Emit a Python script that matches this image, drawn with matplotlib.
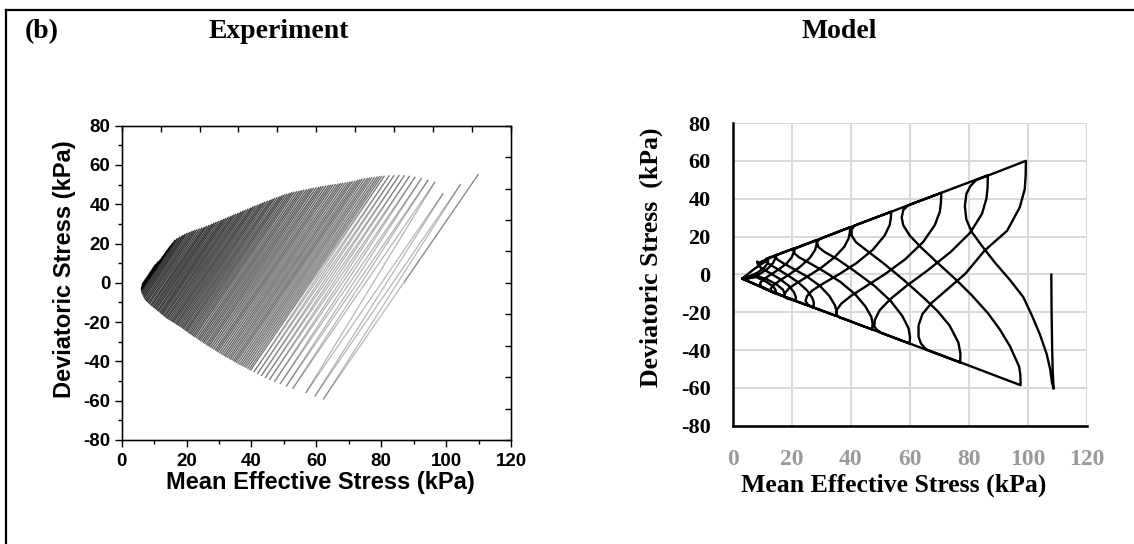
import matplotlib
matplotlib.use('Agg')
import matplotlib.pyplot as plt
from matplotlib.lines import Line2D
from matplotlib.collections import LineCollection
from matplotlib.ticker import MultipleLocator

plt.rcParams['axes.unicode_minus'] = False

# ---------------- data: experiment (cycle peaks) ----------------
exp_start = (87.0, 0.0)
exp_comp_p = [110.0, 104.5, 99.1, 96.6, 94.5, 92.5, 90.5, 88.8, 87.2, 85.6, 84.0, 82.5,
              81.0, 80.2, 79.5, 78.8, 78.0, 77.2, 76.5, 75.8, 75.0, 74.2, 73.5, 72.8, 72.0, 71.2,
              70.5, 69.8, 69.0, 68.2, 67.5, 66.8, 66.0, 65.2, 64.5, 63.8, 63.0, 62.2, 61.5, 60.8,
              60.0, 59.2, 58.5, 57.8, 57.0, 56.2, 55.5, 54.8, 54.0, 53.2, 52.5, 51.8, 51.0, 50.2,
              49.5, 48.8, 48.0, 47.2, 46.5, 45.8, 45.0, 44.2, 43.5, 42.8, 42.0, 41.2, 40.5, 39.8,
              39.0, 38.2, 37.5, 36.8, 36.0, 35.2, 34.5, 33.8, 33.0, 32.2, 31.5, 30.8, 30.0, 29.2,
              28.5, 27.8, 27.0, 26.2, 25.5, 24.8, 24.0, 23.2, 22.5, 21.8, 21.0, 20.2, 19.5, 18.8,
              18.0, 17.2, 16.5, 15.8, 15.0, 14.2, 13.5, 12.8, 12.0, 11.2, 10.5]
exp_comp_q = [55.4, 50.3, 45.6, 51.5, 52.5, 53.4, 54.0, 54.5, 54.8, 54.9, 54.8, 54.7,
              54.5, 54.4, 54.3, 54.1, 53.9, 53.8, 53.6, 53.4, 53.2, 53.0, 52.7, 52.4, 52.0, 51.8,
              51.5, 51.3, 51.1, 50.9, 50.7, 50.5, 50.3, 50.1, 49.9, 49.7, 49.5, 49.3, 49.1, 48.8,
              48.6, 48.4, 48.1, 47.9, 47.6, 47.4, 47.1, 46.9, 46.6, 46.4, 46.1, 45.8, 45.4, 45.0,
              44.5, 44.0, 43.6, 43.2, 42.7, 42.2, 41.8, 41.3, 40.8, 40.3, 39.8, 39.3, 38.8, 38.2,
              37.7, 37.2, 36.7, 36.2, 35.6, 35.1, 34.6, 34.1, 33.6, 33.0, 32.5, 32.0, 31.5, 31.0,
              30.5, 30.0, 29.4, 28.9, 28.3, 28.0, 27.6, 27.2, 26.8, 26.4, 25.9, 25.4, 24.8, 24.2,
              23.5, 22.7, 21.9, 20.3, 18.7, 16.9, 15.0, 13.5, 12.0, 10.8, 9.5]
exp_ext_p = [62.1, 59.5, 56.7, 52.7, 50.7, 48.8, 47.0, 45.5, 44.2, 43.0, 41.8, 40.7,
             39.7, 39.2, 38.7, 38.2, 37.7, 37.2, 36.7, 36.2, 35.7, 35.2, 34.8, 34.4, 33.9, 33.4,
             33.0, 32.5, 32.0, 31.6, 31.1, 30.6, 30.1, 29.6, 29.2, 28.8, 28.3, 27.8, 27.3, 26.8,
             26.4, 26.0, 25.5, 25.1, 24.7, 24.2, 23.8, 23.4, 22.9, 22.4, 22.0, 21.6, 21.2, 20.8,
             20.4, 20.0, 19.7, 19.3, 18.9, 18.6, 18.2, 17.8, 17.4, 17.0, 16.7, 16.3, 15.9, 15.6,
             15.2, 14.8, 14.4, 14.0, 13.7, 13.3, 13.0, 12.6, 12.3, 12.0, 11.7, 11.3, 11.0, 10.6,
             10.3, 9.9, 9.6, 9.2, 8.9, 8.5, 8.2, 7.8, 7.5, 7.2, 6.9, 6.7, 6.5, 6.3,
             6.1, 6.0, 6.0, 6.0, 6.0, 6.1, 6.2, 6.2, 6.2, 6.2, 6.3]
exp_ext_q = [-59.4, -57.8, -56.1, -53.9, -52.7, -51.5, -50.5, -49.4, -48.4, -47.4, -46.4, -45.5,
             -44.6, -44.2, -43.7, -43.2, -42.8, -42.4, -42.0, -41.6, -41.1, -40.6, -40.2, -39.8, -39.4, -39.0,
             -38.5, -38.1, -37.7, -37.2, -36.8, -36.3, -35.8, -35.3, -34.8, -34.4, -33.9, -33.4, -32.9, -32.4,
             -32.0, -31.5, -31.0, -30.5, -30.0, -29.6, -29.1, -28.6, -28.1, -27.6, -27.2, -26.7, -26.2, -25.8,
             -25.3, -24.8, -24.4, -24.0, -23.5, -23.0, -22.6, -22.2, -21.8, -21.4, -21.0, -20.6, -20.2, -19.8,
             -19.5, -19.1, -18.7, -18.3, -17.9, -17.4, -17.0, -16.5, -16.0, -15.6, -15.1, -14.6, -14.2, -13.7,
             -13.2, -12.8, -12.3, -11.8, -11.4, -10.8, -10.3, -9.8, -9.2, -8.6, -7.9, -7.2, -6.4, -5.7,
             -5.0, -4.2, -3.5, -3.2, -2.9, -2.7, -2.5, -2.2, -1.9, -1.2, -0.6]

# ---------------- data: model stress path, half-cycle by half-cycle ----------------
model_E0 = [(108.0, 0.0), (108.1, -20.0), (108.3, -40.0), (108.5, -52.0), (108.7, -58.0), (108.8, -60.5)]
model_R0 = [(108.2, -57.0), (107.6, -50.0), (106.4, -42.0), (104.2, -32.0), (101.5, -22.0), (98.5, -12.0),
            (94.0, -3.0), (89.0, 6.0), (84.5, 15.0), (81.0, 22.5), (79.2, 29.0), (78.7, 36.0), (79.2, 42.5),
            (80.5, 46.5), (82.5, 49.8), (99.4, 60.0)]
model_U1 = [(99.3, 52.0), (99.0, 45.0), (97.3, 35.4), (93.0, 23.0), (85.4, 12.6), (78.9, 0.4), (72.4, -8.4),
            (67.5, -15.0), (64.3, -21.0), (63.0, -27.0), (63.0, -33.0), (63.8, -36.5), (65.5, -39.6), (97.6, -58.6)]
model_R1 = [(97.5, -53.0), (97.1, -48.8), (94.0, -38.0), (90.5, -29.0), (86.5, -20.5), (81.0, -11.0),
            (75.7, -2.8), (69.5, 6.0), (64.0, 14.0), (60.0, 20.5), (57.8, 26.0), (57.3, 30.0), (57.8, 34.0),
            (59.5, 36.5), (86.5, 52.4)]
model_U2 = [(86.4, 46.0), (86.0, 40.0), (84.5, 32.0), (80.5, 22.0), (74.0, 12.0), (66.0, 2.0), (59.0, -6.0),
            (53.5, -13.0), (49.8, -19.0), (48.2, -24.0), (48.0, -27.5), (49.0, -29.5), (50.5, -31.0), (77.1, -46.6)]
model_R2 = [(77.2, -42.0), (76.5, -36.0), (73.5, -27.0), (69.5, -19.5), (64.9, -12.6), (58.0, -3.0), (51.0, 6.0),
            (45.5, 12.5), (41.8, 17.0), (40.3, 20.5), (40.3, 23.5), (41.2, 25.6), (42.5, 26.5), (70.7, 43.1)]
model_U3 = [(70.6, 38.0), (70.2, 33.0), (68.5, 26.0), (64.5, 17.0), (58.5, 8.0), (51.5, 0.0), (45.0, -6.5),
            (40.0, -11.5), (36.8, -15.5), (35.2, -19.0), (35.3, -21.5), (36.5, -23.0), (37.5, -23.4), (60.0, -36.6)]
model_R3 = [(60.1, -33.0), (59.6, -28.5), (57.5, -22.0), (53.5, -14.0), (48.0, -6.0), (41.5, 1.5), (35.5, 8.0),
            (31.0, 12.0), (29.0, 14.5), (28.6, 17.0), (29.3, 18.5), (30.5, 19.4), (53.7, 33.1)]
model_U4 = [(53.6, 29.5), (53.2, 26.0), (51.5, 20.5), (47.5, 13.0), (42.0, 6.0), (36.0, 0.0), (30.5, -5.0),
            (27.0, -8.5), (25.2, -11.5), (24.7, -14.0), (25.3, -15.8), (26.5, -16.9), (47.3, -29.2)]
model_R4 = [(47.4, -26.0), (47.0, -22.5), (45.0, -17.0), (41.5, -10.5), (36.5, -4.0), (31.0, 1.5), (26.0, 6.0),
            (22.5, 9.0), (21.0, 11.0), (20.8, 12.8), (21.5, 13.8), (22.5, 14.4), (39.8, 24.9)]
model_U5 = [(39.7, 22.0), (39.3, 19.0), (37.8, 14.5), (34.5, 9.0), (30.0, 3.5), (25.5, -1.0), (21.5, -4.8),
            (19.0, -7.5), (17.7, -10.0), (17.6, -12.0), (18.5, -12.8), (19.5, -13.1), (35.1, -22.0)]
model_R5 = [(35.2, -19.5), (34.7, -16.5), (32.8, -11.5), (29.5, -6.0), (25.0, -1.0), (20.5, 3.0), (17.0, 6.0),
            (15.2, 7.8), (14.5, 9.3), (15.0, 10.3), (16.0, 10.9), (28.5, 18.2)]
model_U6 = [(28.4, 15.5), (27.9, 12.8), (26.2, 8.8), (23.0, 4.2), (19.5, 0.3), (16.2, -3.0), (14.0, -5.5),
            (12.9, -7.5), (13.0, -9.0), (14.0, -9.8), (27.4, -17.5)]
model_R6 = [(27.5, -15.0), (27.0, -12.5), (25.2, -8.5), (22.2, -4.2), (18.5, -0.3), (15.0, 3.0), (12.5, 5.3),
            (11.3, 6.8), (11.3, 8.2), (12.3, 8.8), (20.7, 13.6)]
model_U7 = [(20.6, 11.3), (20.0, 9.0), (18.3, 5.8), (15.5, 2.5), (12.5, -0.5), (10.3, -2.8), (9.3, -4.6),
            (9.6, -6.3), (10.8, -7.6), (21.3, -14.0)]
model_R7 = [(21.4, -12.0), (20.8, -9.5), (19.0, -6.0), (16.0, -2.5), (12.5, 0.8), (9.8, 3.2), (8.6, 4.8),
            (8.3, 6.8), (8.9, 6.0), (9.8, 6.8), (14.4, 9.9)]
model_U8 = [(14.3, 8.0), (13.7, 6.0), (12.0, 3.2), (9.5, 0.5), (7.0, -1.5), (5.0, -2.4), (3.2, -2.3),
            (17.5, -11.7)]
model_R8 = [(17.6, -10.0), (17.0, -8.0), (15.0, -5.5), (11.5, -2.5), (7.5, -0.5), (4.5, -1.5), (3.2, -2.3),
            (7.0, 2.5), (12.0, 7.8)]
model_U9 = [(11.9, 6.3), (11.0, 4.0), (8.5, 1.0), (5.5, -1.2), (3.2, -2.3), (14.5, -10.0)]
model_R9 = [(14.6, -8.5), (13.8, -6.5), (11.5, -4.0), (8.0, -1.5), (4.5, -1.8), (3.2, -2.3)]

model_path = (model_E0 + model_R0 + model_U1 + model_R1 + model_U2 + model_R2 + model_U3 + model_R3
              + model_U4 + model_R4 + model_U5 + model_R5 + model_U6 + model_R6 + model_U7 + model_R7
              + model_U8 + model_R8 + model_U9 + model_R9)

x_ticks = [0, 20, 40, 60, 80, 100, 120]
y_ticks = [-80, -60, -40, -20, 0, 20, 40, 60, 80]

# ---------------- figure ----------------
W, H = 1134, 544
fig = plt.figure(figsize=(W / 100, H / 100), dpi=100)
SANS = 'Liberation Sans'
SERIF = 'Liberation Serif'


def fx(px):
    return px / W


def fy(py):
    return 1 - py / H


# outer frame (left and top)
fig.add_artist(Line2D([fx(5.5), fx(5.5)], [fy(10), fy(560)], color='k', lw=1.6, transform=fig.transFigure))
fig.add_artist(Line2D([fx(5.5), fx(1140)], [fy(10), fy(10)], color='k', lw=1.6, transform=fig.transFigure))

fig.text(fx(25), fy(32), '(b)', ha='left', va='center', fontsize=20, fontweight='bold', family=SERIF)
fig.text(fx(279), fy(32), 'Experiment', ha='center', va='center', fontsize=20, fontweight='bold', family=SERIF)
fig.text(fx(839), fy(32), 'Model', ha='center', va='center', fontsize=20, fontweight='bold', family=SERIF)

# ---------------- left panel: experiment ----------------
L, R, T, B = 121.7, 511.0, 125.7, 440.0
ax1 = fig.add_axes([fx(L), fy(B), (R - L) / W, (B - T) / H])
pts = [exp_start]
for cp, cq, ep, eq in zip(exp_comp_p, exp_comp_q, exp_ext_p, exp_ext_q):
    pts.append((cp, cq))
    pts.append((ep, eq))
segs = [[pts[i], pts[i + 1]] for i in range(len(pts) - 1)]
nseg = len(segs)
seg_colors = [(0, 0, 0, 0.28 + 0.32 * i / (nseg - 1)) for i in range(nseg)]
ax1.add_collection(LineCollection(segs, colors=seg_colors, linewidths=0.9))
ax1.set_xlim(0, 120)
ax1.set_ylim(-80, 80)
ax1.set_xticks(x_ticks)
ax1.set_yticks(y_ticks)
ax1.xaxis.set_minor_locator(MultipleLocator(10))
ax1.yaxis.set_minor_locator(MultipleLocator(10))
ax1.tick_params(which='major', direction='out', length=5, width=1, pad=3)
ax1.tick_params(which='minor', direction='out', length=3, width=1)
ax1.tick_params(axis='x', pad=4)
for lab in ax1.get_xticklabels() + ax1.get_yticklabels():
    lab.set_fontfamily(SANS)
    lab.set_fontweight('bold')
    lab.set_fontsize(13.5)
for sp in ax1.spines.values():
    sp.set_linewidth(1.0)
# inward ticks on top and right (10 divisions)
axt = ax1.twiny()
axt.set_xlim(0, 120)
axt.set_xticks([12 * i for i in range(11)])
axt.tick_params(axis='x', direction='in', length=4, width=1, labeltop=False)
axr = ax1.twinx()
axr.set_ylim(-80, 80)
axr.set_yticks([-80 + 16 * i for i in range(11)])
axr.tick_params(axis='y', direction='in', length=4, width=1, labelright=False)

fig.text(fx(320), fy(482), 'Mean Effective Stress (kPa)', ha='center', va='center', fontsize=17,
         fontweight='bold', family=SANS)
fig.text(fx(64), fy(269), 'Deviatoric Stress (kPa)', ha='center', va='center', rotation=90, fontsize=17,
         fontweight='bold', family=SANS)

# ---------------- right panel: model ----------------
L2, R2, T2, B2 = 732.7, 1086.7, 123.0, 425.7
ax2 = fig.add_axes([fx(L2), fy(B2), (R2 - L2) / W, (B2 - T2) / H])
ax2.set_xlim(0, 120)
ax2.set_ylim(-80, 80)
ax2.set_xticks(x_ticks)
ax2.set_yticks(y_ticks)
ax2.grid(True, color='#d9d9d9', lw=1.4)
ax2.set_axisbelow(True)
mp = [p for p, q in model_path]
mq = [q for p, q in model_path]
ax2.plot(mp, mq, color='k', lw=1.7, solid_joinstyle='round', solid_capstyle='round', clip_on=False)
for s in ['top', 'right']:
    ax2.spines[s].set_visible(False)
ax2.spines['left'].set_linewidth(1.8)
ax2.spines['bottom'].set_linewidth(1.8)
ax2.tick_params(length=0)
ax2.tick_params(axis='y', pad=16)
ax2.tick_params(axis='x', pad=17, labelcolor='#9a9a9a')
for lab in ax2.get_yticklabels():
    lab.set_fontfamily(SERIF)
    lab.set_fontweight('bold')
    lab.set_fontsize(16)
for lab in ax2.get_xticklabels():
    lab.set_fontfamily(SERIF)
    lab.set_fontweight('bold')
    lab.set_fontsize(17)

fig.text(fx(894), fy(485), 'Mean Effective Stress (kPa)', ha='center', va='center', fontsize=18.5,
         fontweight='bold', family=SERIF)
fig.text(fx(651), fy(257), 'Deviatoric Stress  (kPa)', ha='center', va='center', rotation=90, fontsize=18.5,
         fontweight='bold', family=SERIF)

fig.savefig('out.png', dpi=100)
